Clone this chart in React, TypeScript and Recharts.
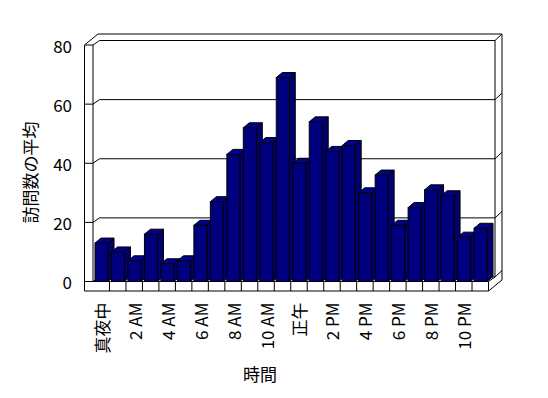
import { BarChart, Bar, XAxis, YAxis, CartesianGrid } from 'recharts'

const hours = [
  '真夜中', '1 AM', '2 AM', '3 AM', '4 AM', '5 AM', '6 AM', '7 AM', '8 AM', '9 AM', '10 AM', '11 AM',
  '正午', '1 PM', '2 PM', '3 PM', '4 PM', '5 PM', '6 PM', '7 PM', '8 PM', '9 PM', '10 PM', '11 PM',
]
const visits = [13, 10, 7, 16, 6, 7, 19, 27, 43, 52, 47, 69, 40, 54, 44, 46, 30, 36, 19, 25, 31, 29, 15, 18]
const yTicks = [0, 20, 40, 60, 80]

const data = hours.map((hour, i) => ({ hour, visits: visits[i] }))

// chart box
const W = 548
const H = 398
const PL = 93 // front floor left
const PR = 488.5 // front floor right
const PT = 45
const PB = 281.5
const DX = 6.5 // depth of the floor
const DY = 4.5
const WX = 7 // wall thickness
const WY = 6.5
const WALL = 8.5 // left wall width
const FLOOR = 9.5 // floor thickness
const BAR_DX = 6
const BAR_DY = 5

const FRONT = '#00007f'
const TOP = '#000092'
const SIDE = '#000070'
const FONT = '"Noto Sans CJK JP", "Noto Sans", sans-serif'

function Bar3D(props: any) {
  const { x, y, width, height } = props
  if (height == null || width == null) return null
  const r = x + width
  const b = y + height
  return (
    <g stroke="#000" strokeWidth={1}>
      <polygon points={`${r},${y} ${r + BAR_DX},${y - BAR_DY} ${r + BAR_DX},${b - BAR_DY} ${r},${b}`} fill={SIDE} />
      <polygon points={`${x},${y} ${x + BAR_DX},${y - BAR_DY} ${r + BAR_DX},${y - BAR_DY} ${r},${y}`} fill={TOP} />
      <rect x={x} y={y} width={width} height={height} fill={FRONT} />
    </g>
  )
}

// gridline wraps round the walls: front tick, back wall line, right edge
function GridLine(props: any) {
  const { x1, x2, y1 } = props
  const by = y1 - DY
  return (
    <g key={props.key} stroke="#000" strokeWidth={1} fill="none">
      <polyline
        points={`${x1 - WALL},${y1} ${x1},${y1} ${x1 + DX},${by} ${x2 + DX},${by} ${x2 + DX + WX},${by - WY}`}
      />
    </g>
  )
}

function HourTick(props: any) {
  const { x, y, index, payload } = props
  const band = (PR - PL) / hours.length
  const bx = x - band / 2
  return (
    <g>
      {index > 0 && <line x1={bx} x2={bx} y1={PB} y2={PB + FLOOR} stroke="#000" />}
      {index % 2 === 0 && (
        <text
          x={x}
          y={y}
          transform={`rotate(-90 ${x} ${y})`}
          textAnchor="end"
          dominantBaseline="central"
          fontSize={17}
          fontFamily={FONT}
          fill="#000"
        >
          {payload.value}
        </text>
      )}
    </g>
  )
}

function ValueTick(props: any) {
  const { x, y, payload } = props
  return (
    <text x={x} y={y} textAnchor="end" dominantBaseline="central" fontSize={17} fontFamily={FONT} fill="#000">
      {payload.value}
    </text>
  )
}

function Frame() {
  const ox = PR + DX + WX
  const oy = PT - DY - WY
  return (
    <svg width={W} height={H} style={{ position: 'absolute', left: 0, top: 0 }}>
      <g stroke="#000" strokeWidth={1} fill="none">
        {/* left wall */}
        <line x1={PL - WALL} y1={PT} x2={PL - WALL} y2={PB + FLOOR} />
        <line x1={PL} y1={PT} x2={PL} y2={PB} />
        <line x1={PL - WALL} y1={PT} x2={PL - WALL + DX + WX} y2={oy} />
        {/* top and right of back wall */}
        <line x1={PL - WALL + DX + WX} y1={oy} x2={ox} y2={oy} />
        <line x1={ox} y1={oy} x2={ox} y2={PB + FLOOR - DY - WY} />
        <line x1={PR + DX} y1={PT - DY} x2={PR + DX} y2={PB - DY} />
        {/* floor */}
        <line x1={PL - WALL} y1={PB + FLOOR} x2={PR} y2={PB + FLOOR} />
        <line x1={PL} y1={PB} x2={PR} y2={PB} />
        <line x1={PR} y1={PB} x2={PR} y2={PB + FLOOR} />
        <line x1={PR} y1={PB} x2={PR + DX} y2={PB - DY} />
        <line x1={PR} y1={PB + FLOOR} x2={ox} y2={PB + FLOOR - DY - WY} />
      </g>
      <text
        x={29}
        y={172.5}
        transform="rotate(-90 29 172.5)"
        textAnchor="middle"
        dominantBaseline="central"
        fontSize={17}
        fontFamily={FONT}
      >
        訪問数の平均
      </text>
      <text x={260} y={373.5} textAnchor="middle" dominantBaseline="central" fontSize={17} fontFamily={FONT}>
        時間
      </text>
    </svg>
  )
}

export default function App() {
  return (
    <div style={{ position: 'absolute', left: 0, top: 0, width: W, height: H, background: '#fff' }}>
      <Frame />
      <div style={{ position: 'absolute', left: 0, top: 0 }}>
        <BarChart
          width={W}
          height={H}
          data={data}
          margin={{ top: PT, right: W - PR, left: PL - 60, bottom: H - PB - 80 }}
          barSize={13}
        >
          <CartesianGrid vertical={false} horizontal={GridLine} />
          <XAxis
            dataKey="hour"
            interval={0}
            height={80}
            axisLine={false}
            tickLine={false}
            tickSize={0}
            tickMargin={21}
            tick={HourTick}
          />
          <YAxis
            domain={[0, 80]}
            ticks={yTicks}
            interval={0}
            width={60}
            axisLine={false}
            tickLine={false}
            tickSize={0}
            tickMargin={21}
            tick={ValueTick}
          />
          <Bar dataKey="visits" shape={Bar3D} isAnimationActive={false} />
        </BarChart>
      </div>
    </div>
  )
}
